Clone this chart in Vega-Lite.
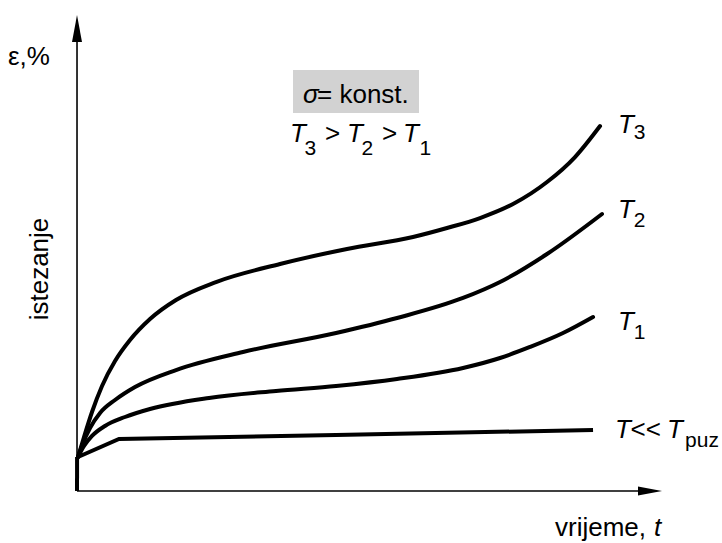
{
  "$schema": "https://vega.github.io/schema/vega-lite/v6.json",
  "width": 722,
  "height": 543,
  "autosize": "none",
  "padding": 0,
  "background": "white",
  "config": {"view": {"stroke": null}},
  "datasets": {
    "box": [{"t": 37.05, "t2": 58.66, "e": 79.08, "e2": 88.08}],
    "axes": [
      {"t": 0, "t2": 0, "e": 0, "e2": 94.35},
      {"t": 0, "t2": 97.43, "e": 0, "e2": 0}
    ],
    "arrowUp": [{"t": 0, "e": 96.76}],
    "arrowRight": [{"t": 98.28, "e": 0}],
    "curves": [
      {"curve": "T3", "t": 0.17, "e": 7.11},
      {"curve": "T3", "t": 1.2, "e": 11.3},
      {"curve": "T3", "t": 2.57, "e": 16.53},
      {"curve": "T3", "t": 4.29, "e": 21.97},
      {"curve": "T3", "t": 6.52, "e": 27.2},
      {"curve": "T3", "t": 9.09, "e": 31.59},
      {"curve": "T3", "t": 12.52, "e": 35.98},
      {"curve": "T3", "t": 16.98, "e": 39.96},
      {"curve": "T3", "t": 23.84, "e": 43.72},
      {"curve": "T3", "t": 34.82, "e": 47.49},
      {"curve": "T3", "t": 46.31, "e": 50.63},
      {"curve": "T3", "t": 57.63, "e": 53.14},
      {"curve": "T3", "t": 63.46, "e": 55.02},
      {"curve": "T3", "t": 69.13, "e": 57.11},
      {"curve": "T3", "t": 74.79, "e": 60.04},
      {"curve": "T3", "t": 80.62, "e": 64.64},
      {"curve": "T3", "t": 85.42, "e": 69.87},
      {"curve": "T3", "t": 89.71, "e": 76.36},
      {"curve": "T2", "t": 0.17, "e": 7.11},
      {"curve": "T2", "t": 1.03, "e": 10.04},
      {"curve": "T2", "t": 2.23, "e": 13.18},
      {"curve": "T2", "t": 3.95, "e": 16.32},
      {"curve": "T2", "t": 6.52, "e": 19.04},
      {"curve": "T2", "t": 9.95, "e": 21.76},
      {"curve": "T2", "t": 16.98, "e": 25.31},
      {"curve": "T2", "t": 28.47, "e": 29.08},
      {"curve": "T2", "t": 44.43, "e": 33.05},
      {"curve": "T2", "t": 54.89, "e": 36.19},
      {"curve": "T2", "t": 66.21, "e": 40.38},
      {"curve": "T2", "t": 72.56, "e": 43.72},
      {"curve": "T2", "t": 80.62, "e": 49.58},
      {"curve": "T2", "t": 90.05, "e": 57.95},
      {"curve": "T1", "t": 0.17, "e": 7.11},
      {"curve": "T1", "t": 1.2, "e": 9.41},
      {"curve": "T1", "t": 2.57, "e": 11.51},
      {"curve": "T1", "t": 4.8, "e": 13.6},
      {"curve": "T1", "t": 8.23, "e": 15.48},
      {"curve": "T1", "t": 12.52, "e": 17.15},
      {"curve": "T1", "t": 22.64, "e": 19.46},
      {"curve": "T1", "t": 34.13, "e": 20.92},
      {"curve": "T1", "t": 44.43, "e": 21.97},
      {"curve": "T1", "t": 54.89, "e": 23.43},
      {"curve": "T1", "t": 66.21, "e": 25.73},
      {"curve": "T1", "t": 72.56, "e": 27.82},
      {"curve": "T1", "t": 77.7, "e": 30.13},
      {"curve": "T1", "t": 83.36, "e": 33.05},
      {"curve": "T1", "t": 88.51, "e": 36.4}
    ],
    "straight": [
      {"curve": "Tpuz", "t": 0.17, "e": 7.11},
      {"curve": "Tpuz", "t": 7.2, "e": 10.88},
      {"curve": "Tpuz", "t": 44.43, "e": 11.72},
      {"curve": "Tpuz", "t": 88.51, "e": 12.76},
      {"curve": "elastic", "t": 0, "e": 0},
      {"curve": "elastic", "t": 0.01, "e": 7.11}
    ],
    "regular": [
      {"t": -11.84, "e": 89.12, "label": "ε,%"},
      {"t": 41.17, "e": 81.17, "label": "= konst."},
      {"t": 42.54, "e": 73.01, "label": ">"},
      {"t": 52.32, "e": 73.01, "label": ">"},
      {"t": 94.95, "e": 11.09, "label": "<<"},
      {"t": 81.99, "e": -9.41, "label": "vrijeme,"}
    ],
    "italic": [
      {"t": 38.77, "e": 81.17, "label": "σ"},
      {"t": 36.54, "e": 73.01, "label": "T"},
      {"t": 46.31, "e": 73.01, "label": "T"},
      {"t": 55.92, "e": 73.01, "label": "T"},
      {"t": 92.8, "e": 74.9, "label": "T"},
      {"t": 92.8, "e": 57.11, "label": "T"},
      {"t": 92.8, "e": 33.68, "label": "T"},
      {"t": 92.28, "e": 11.09, "label": "T"},
      {"t": 101.2, "e": 11.09, "label": "T"},
      {"t": 98.97, "e": -9.41, "label": "t"}
    ],
    "subs": [
      {"t": 39.03, "e": 70.29, "label": "3"},
      {"t": 48.8, "e": 70.29, "label": "2"},
      {"t": 58.75, "e": 70.29, "label": "1"},
      {"t": 95.5, "e": 73.64, "label": "3"},
      {"t": 95.5, "e": 55.23, "label": "2"},
      {"t": 95.5, "e": 31.8, "label": "1"},
      {"t": 104.29, "e": 9.21, "label": "puz"}
    ],
    "rotated": [{"t": -4.97, "e": 46.44, "label": "istezanje"}]
  },
  "encoding": {
    "x": {"field": "t", "type": "quantitative", "scale": {"domain": [-13.21, 110.63], "nice": false, "zero": false}, "axis": null},
    "y": {"field": "e", "type": "quantitative", "scale": {"domain": [-10.88, 102.72], "nice": false, "zero": false}, "axis": null}
  },
  "layer": [
    {
      "data": {"name": "box"},
      "mark": {"type": "rect", "color": "#d2d2d2"},
      "encoding": {"x2": {"field": "t2"}, "y2": {"field": "e2"}}
    },
    {
      "data": {"name": "axes"},
      "mark": {"type": "rule", "color": "black", "strokeWidth": 1.6},
      "encoding": {"x2": {"field": "t2"}, "y2": {"field": "e2"}}
    },
    {
      "data": {"name": "arrowUp"},
      "mark": {"type": "point", "shape": "M0,-1L0.37,1L-0.37,1Z", "size": 729, "filled": true, "color": "black", "opacity": 1, "strokeWidth": 0}
    },
    {
      "data": {"name": "arrowRight"},
      "mark": {"type": "point", "shape": "M1,0L-1,-0.375L-1,0.375Z", "size": 576, "filled": true, "color": "black", "opacity": 1, "strokeWidth": 0}
    },
    {
      "data": {"name": "curves"},
      "mark": {"type": "line", "color": "black", "strokeWidth": 4, "interpolate": "monotone", "strokeCap": "round"},
      "encoding": {"detail": {"field": "curve"}}
    },
    {
      "data": {"name": "straight"},
      "mark": {"type": "line", "color": "black", "strokeWidth": 4, "interpolate": "linear", "strokeCap": "butt", "strokeJoin": "miter"},
      "encoding": {"detail": {"field": "curve"}}
    },
    {
      "data": {"name": "regular"},
      "mark": {"type": "text", "font": "Liberation Sans", "fontSize": 26, "align": "left", "baseline": "alphabetic", "color": "black"},
      "encoding": {"text": {"field": "label"}}
    },
    {
      "data": {"name": "italic"},
      "mark": {"type": "text", "font": "Liberation Sans", "fontSize": 26, "fontStyle": "italic", "align": "left", "baseline": "alphabetic", "color": "black"},
      "encoding": {"text": {"field": "label"}}
    },
    {
      "data": {"name": "subs"},
      "mark": {"type": "text", "font": "Liberation Sans", "fontSize": 21, "align": "left", "baseline": "alphabetic", "color": "black"},
      "encoding": {"text": {"field": "label"}}
    },
    {
      "data": {"name": "rotated"},
      "mark": {"type": "text", "font": "Liberation Sans", "fontSize": 26, "angle": 270, "align": "center", "baseline": "alphabetic", "color": "black"},
      "encoding": {"text": {"field": "label"}}
    }
  ]
}
